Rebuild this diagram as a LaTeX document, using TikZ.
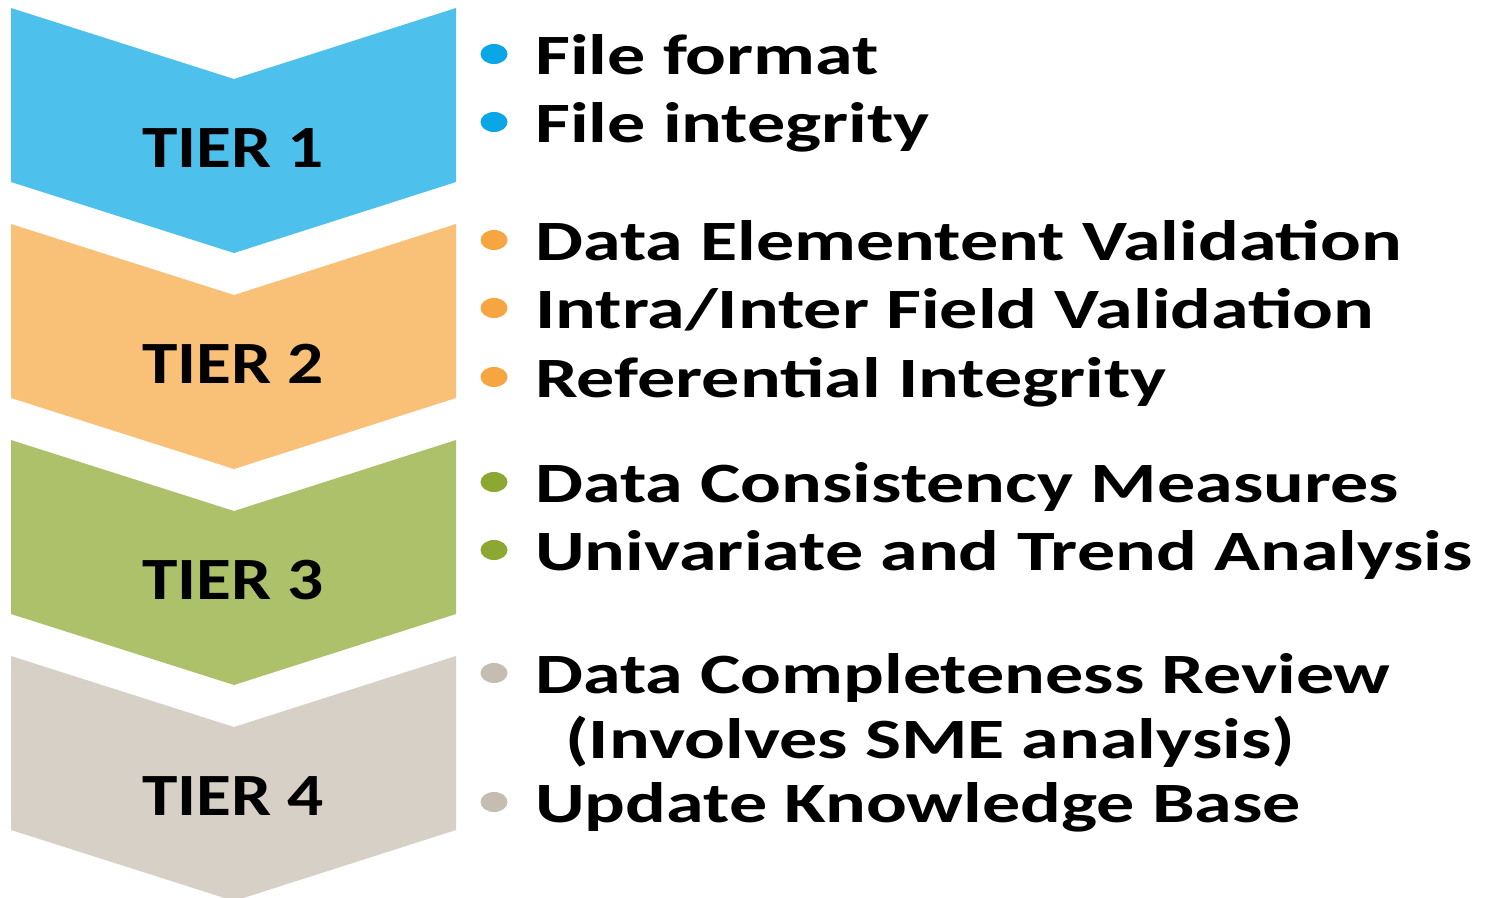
\documentclass[tikz,border=0pt]{standalone}
\usepackage{fontspec}
\setmainfont{Carlito}
\usepackage{graphicx}
\definecolor{c1}{HTML}{4DC0EC}
\definecolor{c2}{HTML}{F9C078}
\definecolor{c3}{HTML}{ADC16B}
\definecolor{c4}{HTML}{D6D0C6}
\definecolor{b1}{HTML}{0AA6E6}
\definecolor{b2}{HTML}{F7A540}
\definecolor{b3}{HTML}{8DA832}
\definecolor{b4}{HTML}{C5BDB1}
\newcommand{\tierlbl}[1]{\scalebox{1.19}[1]{\fontsize{60}{60}\selectfont\bfseries #1}}
\newcommand{\itemtxt}[1]{\scalebox{1.335}[1]{\fontsize{57}{57}\selectfont\bfseries #1}}
\begin{document}
\begin{tikzpicture}[x=1pt,y=-1pt,
  tierlabel/.style={anchor=base,inner sep=0pt,text=black},
  itemlabel/.style={anchor=base west,inner sep=0pt,text=black}]
\clip (0,0) rectangle (1487,897);
\useasboundingbox (0,0) rectangle (1487,897);
\foreach \i/\c in {0/c1,1/c2,2/c3,3/c4}{
  \fill[\c] (11,8+216*\i) -- (234,79+216*\i) -- (456,8+216*\i) -- (456,182+216*\i) -- (234,253+216*\i) -- (11,182+216*\i) -- cycle;
}
\node[tierlabel] (t1) at (233,167) {\tierlbl{TIER 1}};
\node[tierlabel] (t2) at (233,383) {\tierlbl{TIER 2}};
\node[tierlabel] (t3) at (233,599) {\tierlbl{TIER 3}};
\node[tierlabel] (t4) at (233,815) {\tierlbl{TIER 4}};
% bullets
\foreach \y/\c in {74/b1,142/b1,260/b2,328/b2,397/b2,502/b3,570/b3,693/b4,822/b4}{
  \fill[\c] (494,\y-20) ellipse [x radius=13.5, y radius=10];
}
\node[itemlabel] (i1) at (535,74) {\itemtxt{File format}};
\node[itemlabel] (i2) at (535,142) {\itemtxt{File integrity}};
\node[itemlabel] (i3) at (535,260) {\itemtxt{Data Elementent Validation}};
\node[itemlabel] (i4) at (535,328) {\itemtxt{Intra/Inter Field Validation}};
\node[itemlabel] (i5) at (535,397) {\itemtxt{Referential Integrity}};
\node[itemlabel] (i6) at (535,502) {\itemtxt{Data Consistency Measures}};
\node[itemlabel] (i7) at (535,570) {\itemtxt{Univariate and Trend Analysis}};
\node[itemlabel] (i8) at (535,693) {\itemtxt{Data Completeness Review}};
\node[itemlabel] (i9) at (565,758) {\itemtxt{(Involves SME analysis)}};
\node[itemlabel] (i10) at (535,822) {\itemtxt{Update Knowledge Base}};
\end{tikzpicture}
\end{document}
